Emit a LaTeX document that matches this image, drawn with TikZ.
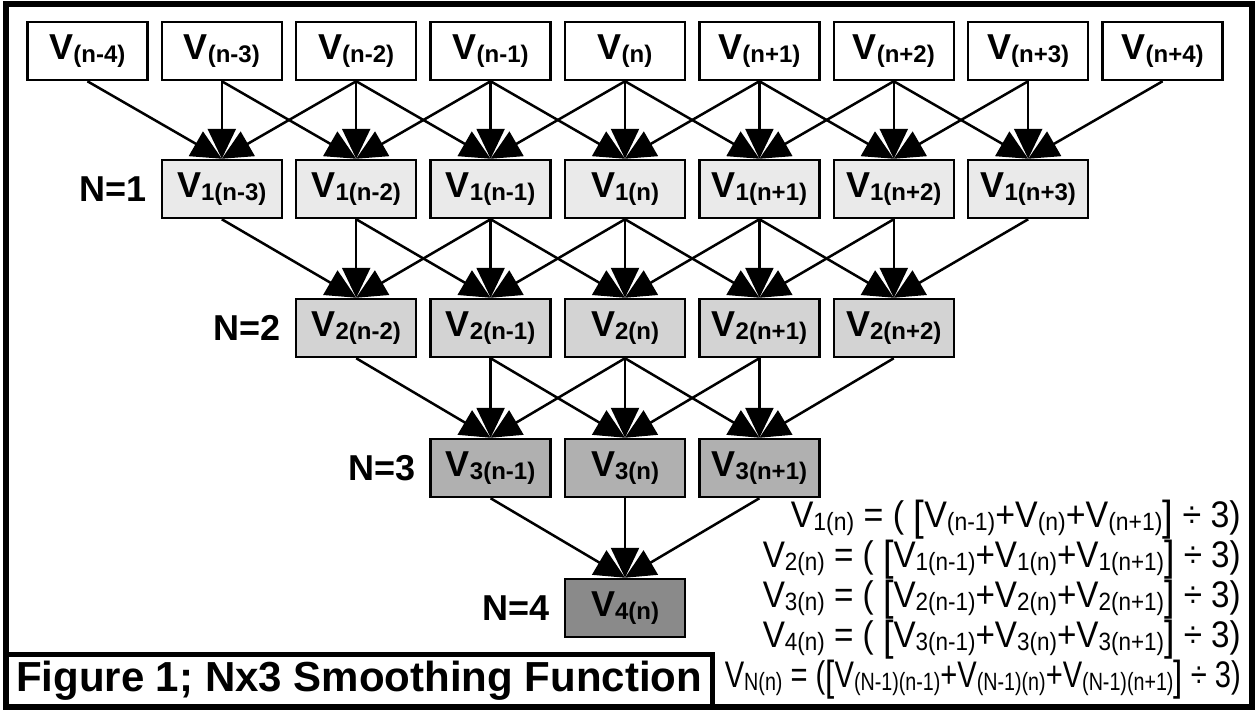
\documentclass[tikz,border=0pt]{standalone}
\usepackage{fontspec}
\usepackage{graphicx}
\setmainfont{Liberation Sans}
\usetikzlibrary{arrows.meta}
\definecolor{lvA}{HTML}{EAEAEA}
\definecolor{lvB}{HTML}{D3D3D3}
\definecolor{lvC}{HTML}{B0B0B0}
\definecolor{lvD}{HTML}{8A8A8A}
\newcommand\bsz[1]{\fontsize{#1}{#1}\selectfont}
\newcommand\bsub[1]{\raisebox{-3pt}{\bsz{24}#1}}
\newcommand\fsub[1]{\raisebox{-3pt}{\bsz{25}#1}}
\newcommand\bk[1]{\raisebox{-3pt}{\bsz{42}#1}}
\newcommand\fitw[2]{\resizebox{#1}{\height}{#2}}
\tikzset{
  vb/.style={draw, line width=2.5pt, minimum width=120pt, minimum height=58pt, inner sep=0pt, font=\bfseries\bsz{36}},
  lvA/.style={fill=lvA}, lvB/.style={fill=lvB}, lvC/.style={fill=lvC}, lvD/.style={fill=lvD}, lv0/.style={fill=white},
  arr/.style={line width=2.5pt, -{Triangle[length=30pt,width=28pt]}},
  nlab/.style={font=\bfseries\bsz{36}, anchor=east, inner sep=0pt},
  formula/.style={font=\bsz{37}, anchor=east, inner sep=0pt},
}
\begin{document}
\begin{tikzpicture}[x=1pt,y=-1pt]
\useasboundingbox (0,0) rectangle (1259,710);
\fill[white] (0,0) rectangle (1259,710);
\draw[line width=6pt] (6,4) rectangle (1252,707);
% level 0
\foreach \j/\s in {0/(n-4),1/(n-3),2/(n-2),3/(n-1),4/(n),5/(n+1),6/(n+2),7/(n+3),8/(n+4)} {
  \node[vb, lv0] (L0-\j) at ({625+134.4*(\j-4)},51) {V\bsub{\s}};
}
\foreach \k/\y/\c in {1/189/lvA,2/328/lvB,3/468/lvC,4/608/lvD} {
  \pgfmathtruncatemacro\km{\k-1}
  \pgfmathtruncatemacro\hi{8-\k}
  \foreach \j/\s in {0/(n-4),1/(n-3),2/(n-2),3/(n-1),4/(n),5/(n+1),6/(n+2),7/(n+3),8/(n+4)} {
    \ifnum\j<\k\relax\else\ifnum\j>\hi\relax\else
      \pgfmathtruncatemacro\jl{\j-1}
      \pgfmathtruncatemacro\jr{\j+1}
      \node[vb, \c] (L\k-\j) at ({625+134.4*(\j-4)},\y) {V\bsub{\k\s}};
      \draw[arr] (L\km-\jl.south) -- (L\k-\j.north);
      \draw[arr] (L\km-\j.south) -- (L\k-\j.north);
      \draw[arr] (L\km-\jr.south) -- (L\k-\j.north);
    \fi\fi
  }
  \node[nlab] (N\k) at ([xshift=-14pt]L\k-\k.west) {N=\k};
}
% formulas
\node[formula] (f1) at (1241,520) {\fitw{450pt}{V\fsub{1(n)} = ( \bk{[}V\fsub{(n-1)}+V\fsub{(n)}+V\fsub{(n+1)}\bk{]} ÷ 3)}};
\node[formula] (f2) at (1241,560) {\fitw{478pt}{V\fsub{2(n)} = ( \bk{[}V\fsub{1(n-1)}+V\fsub{1(n)}+V\fsub{1(n+1)}\bk{]} ÷ 3)}};
\node[formula] (f3) at (1241,600) {\fitw{478pt}{V\fsub{3(n)} = ( \bk{[}V\fsub{2(n-1)}+V\fsub{2(n)}+V\fsub{2(n+1)}\bk{]} ÷ 3)}};
\node[formula] (f4) at (1241,640) {\fitw{478pt}{V\fsub{4(n)} = ( \bk{[}V\fsub{3(n-1)}+V\fsub{3(n)}+V\fsub{3(n+1)}\bk{]} ÷ 3)}};
\node[formula] (f5) at (1241,680) {\fitw{516pt}{V\fsub{N(n)} = (\bk{[}V\fsub{(N-1)(n-1)}+V\fsub{(N-1)(n)}+V\fsub{(N-1)(n+1)}\bk{]} ÷ 3)}};
% caption
\node[draw, line width=5pt, minimum width=706pt, minimum height=53pt, inner sep=0pt, font=\bfseries\bsz{42}] (cap) at (359,680.5) {Figure 1; Nx3 Smoothing Function};
\end{tikzpicture}
\end{document}
